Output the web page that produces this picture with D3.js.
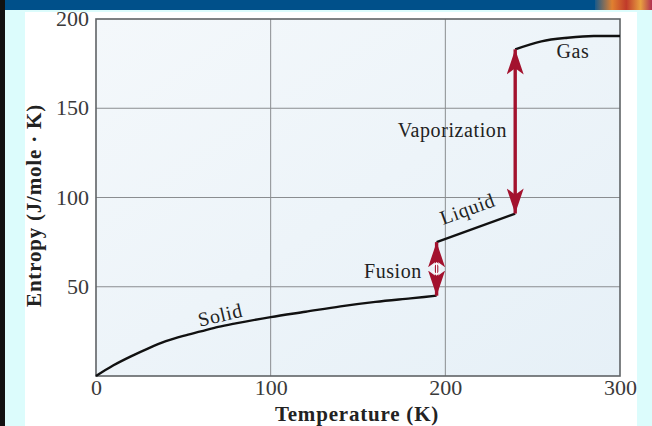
<!DOCTYPE html>
<html>
<head>
<meta charset="utf-8">
<script src="https://cdn.jsdelivr.net/npm/d3@7"></script>
<style>
  body { margin: 0; background: #dcfcfc; }
  svg { display: block; }
</style>
</head>
<body>
<script>
const width = 652;
const height = 426;
const margin = { top: 19, right: 32, bottom: 50, left: 96 };

// values
const xTicks = [0, 100, 200, 300];
const yTicks = [50, 100, 150, 200];
const solidT = [0, 10, 20, 30, 40, 50, 60, 70, 80, 100, 120, 140, 160, 180, 195];
const solidS = [0, 6, 11, 15.5, 19.5, 22.5, 25, 27.5, 29.5, 33, 36, 39, 41.5, 43.5, 45];
const liquidT = [195, 240];
const liquidS = [75, 91];
const gasT = [240, 255, 270, 285, 300];
const gasS = [183, 187.5, 189.5, 190.5, 190.5];
const fusion = { t: 195, from: 45, to: 75 };
const vapor = { t: 240, from: 91, to: 183 };

const phaseLabels = [
  { text: "Solid", t: 72, s: 30.5, angle: -13 },
  { text: "Liquid", t: 214, s: 90, angle: -20 },
  { text: "Gas", t: 273, s: 178, angle: 0 },
  { text: "Vaporization", t: 204, s: 134, angle: 0 },
  { text: "Fusion", t: 170, s: 55, angle: 0 }
];

const innerW = width - margin.left - margin.right;
const innerH = height - margin.top - margin.bottom;

const x = d3.scaleLinear().domain([0, 300]).range([0, innerW]);
const y = d3.scaleLinear().domain([0, 200]).range([innerH, 0]);

const root = d3.select("body").append("svg")
  .attr("width", width)
  .attr("height", height);

const defs = root.append("defs");
const grad = defs.append("linearGradient")
  .attr("id", "plotbg").attr("x1", 0).attr("y1", 0).attr("x2", 1).attr("y2", 1);
grad.append("stop").attr("offset", "0%").attr("stop-color", "#f4f8fb");
grad.append("stop").attr("offset", "100%").attr("stop-color", "#e6f0f7");

const band = defs.append("linearGradient").attr("id", "deco").attr("x1", 0).attr("x2", 1);
band.append("stop").attr("offset", "0%").attr("stop-color", "#1a5a8a");
band.append("stop").attr("offset", "30%").attr("stop-color", "#e08030");
band.append("stop").attr("offset", "55%").attr("stop-color", "#c03a2a");
band.append("stop").attr("offset", "80%").attr("stop-color", "#e8a040");
band.append("stop").attr("offset", "100%").attr("stop-color", "#b03050");

defs.append("marker")
  .attr("id", "head")
  .attr("viewBox", "0 0 10 10")
  .attr("preserveAspectRatio", "none")
  .attr("refX", 10).attr("refY", 5)
  .attr("markerWidth", 7.4).attr("markerHeight", 5)
  .attr("markerUnits", "strokeWidth")
  .attr("orient", "auto-start-reverse")
  .append("path")
  .attr("d", "M0,0 L10,5 L0,10 L2.5,5 Z")
  .attr("fill", "#a3122e");

// page frame
root.append("rect").attr("width", width).attr("height", 10).attr("fill", "#00508a");
root.append("rect").attr("x", 595).attr("width", 57).attr("height", 10).attr("fill", "url(#deco)");
root.append("rect").attr("y", 0).attr("width", 5).attr("height", height).attr("fill", "#111");
root.append("rect").attr("x", 25).attr("y", 12).attr("width", 612).attr("height", height - 12).attr("fill", "#ffffff");

const g = root.append("g").attr("transform", `translate(${margin.left},${margin.top})`);

g.append("rect").attr("width", innerW).attr("height", innerH).attr("fill", "url(#plotbg)");

g.append("g").selectAll("line").data(xTicks.slice(1, -1)).join("line")
  .attr("x1", d => x(d)).attr("x2", d => x(d))
  .attr("y1", 0).attr("y2", innerH)
  .attr("stroke", "#8a8d90").attr("stroke-width", 1);

g.append("g").selectAll("line").data(yTicks.slice(0, -1)).join("line")
  .attr("x1", 0).attr("x2", innerW)
  .attr("y1", d => y(d)).attr("y2", d => y(d))
  .attr("stroke", "#8a8d90").attr("stroke-width", 1);

g.append("rect").attr("width", innerW).attr("height", innerH)
  .attr("fill", "none").attr("stroke", "#5f6366").attr("stroke-width", 1.6);

const font = "'Liberation Serif', 'Times New Roman', serif";

const xAxis = g.append("g").attr("transform", `translate(0,${innerH})`)
  .call(d3.axisBottom(x).tickValues(xTicks).tickSize(0).tickPadding(3));
const yAxis = g.append("g")
  .call(d3.axisLeft(y).tickValues(yTicks).tickSize(0).tickPadding(7));
[xAxis, yAxis].forEach(a => {
  a.select(".domain").remove();
  a.selectAll("text").attr("font-family", font).attr("font-size", 22).attr("fill", "#3a3a3a");
});
xAxis.selectAll("text").attr("dy", "0.72em");
yAxis.selectAll("text").attr("dy", "0.3em");

g.append("text")
  .attr("x", innerW / 2 - 1).attr("y", innerH + 45)
  .attr("text-anchor", "middle")
  .attr("font-family", font).attr("font-weight", "bold").attr("font-size", 21)
  .attr("letter-spacing", 0.8)
  .attr("fill", "#222")
  .text("Temperature (K)");

g.append("text")
  .attr("transform", `translate(${-55},${innerH / 2 + 8}) rotate(-90)`)
  .attr("text-anchor", "middle")
  .attr("font-family", font).attr("font-weight", "bold").attr("font-size", 21)
  .attr("letter-spacing", 0.8)
  .attr("fill", "#222")
  .text("Entropy (J/mole \u00b7 K)");

const line = d3.line().x(d => x(d[0])).y(d => y(d[1])).curve(d3.curveMonotoneX);
[[solidT, solidS], [liquidT, liquidS], [gasT, gasS]].forEach(([ts, ss]) => {
  g.append("path")
    .datum(ts.map((t, i) => [t, ss[i]]))
    .attr("d", line)
    .attr("fill", "none").attr("stroke", "#111").attr("stroke-width", 2.4);
});

[fusion, vapor].forEach(a => {
  g.append("line")
    .attr("x1", x(a.t)).attr("x2", x(a.t))
    .attr("y1", y(a.from)).attr("y2", y(a.to))
    .attr("stroke", "#a3122e").attr("stroke-width", 3.4)
    .attr("marker-start", "url(#head)")
    .attr("marker-end", "url(#head)");
});

// small white double arrow inside the fusion arrow
const midF = y((fusion.from + fusion.to) / 2);
const fx = x(fusion.t);
g.append("path")
  .attr("d", `M${fx},${midF - 6} V${midF + 6} M${fx - 4},${midF - 2} L${fx},${midF - 6} L${fx + 4},${midF - 2} M${fx - 4},${midF + 2} L${fx},${midF + 6} L${fx + 4},${midF + 2}`)
  .attr("fill", "none").attr("stroke", "#fff").attr("stroke-width", 1.3);

g.append("g").selectAll("text").data(phaseLabels).join("text")
  .attr("transform", d => `translate(${x(d.t)},${y(d.s)}) rotate(${d.angle})`)
  .attr("text-anchor", "middle")
  .attr("font-family", font).attr("font-size", 20)
  .attr("letter-spacing", 0.6)
  .attr("fill", "#222")
  .text(d => d.text);
</script>
</body>
</html>
